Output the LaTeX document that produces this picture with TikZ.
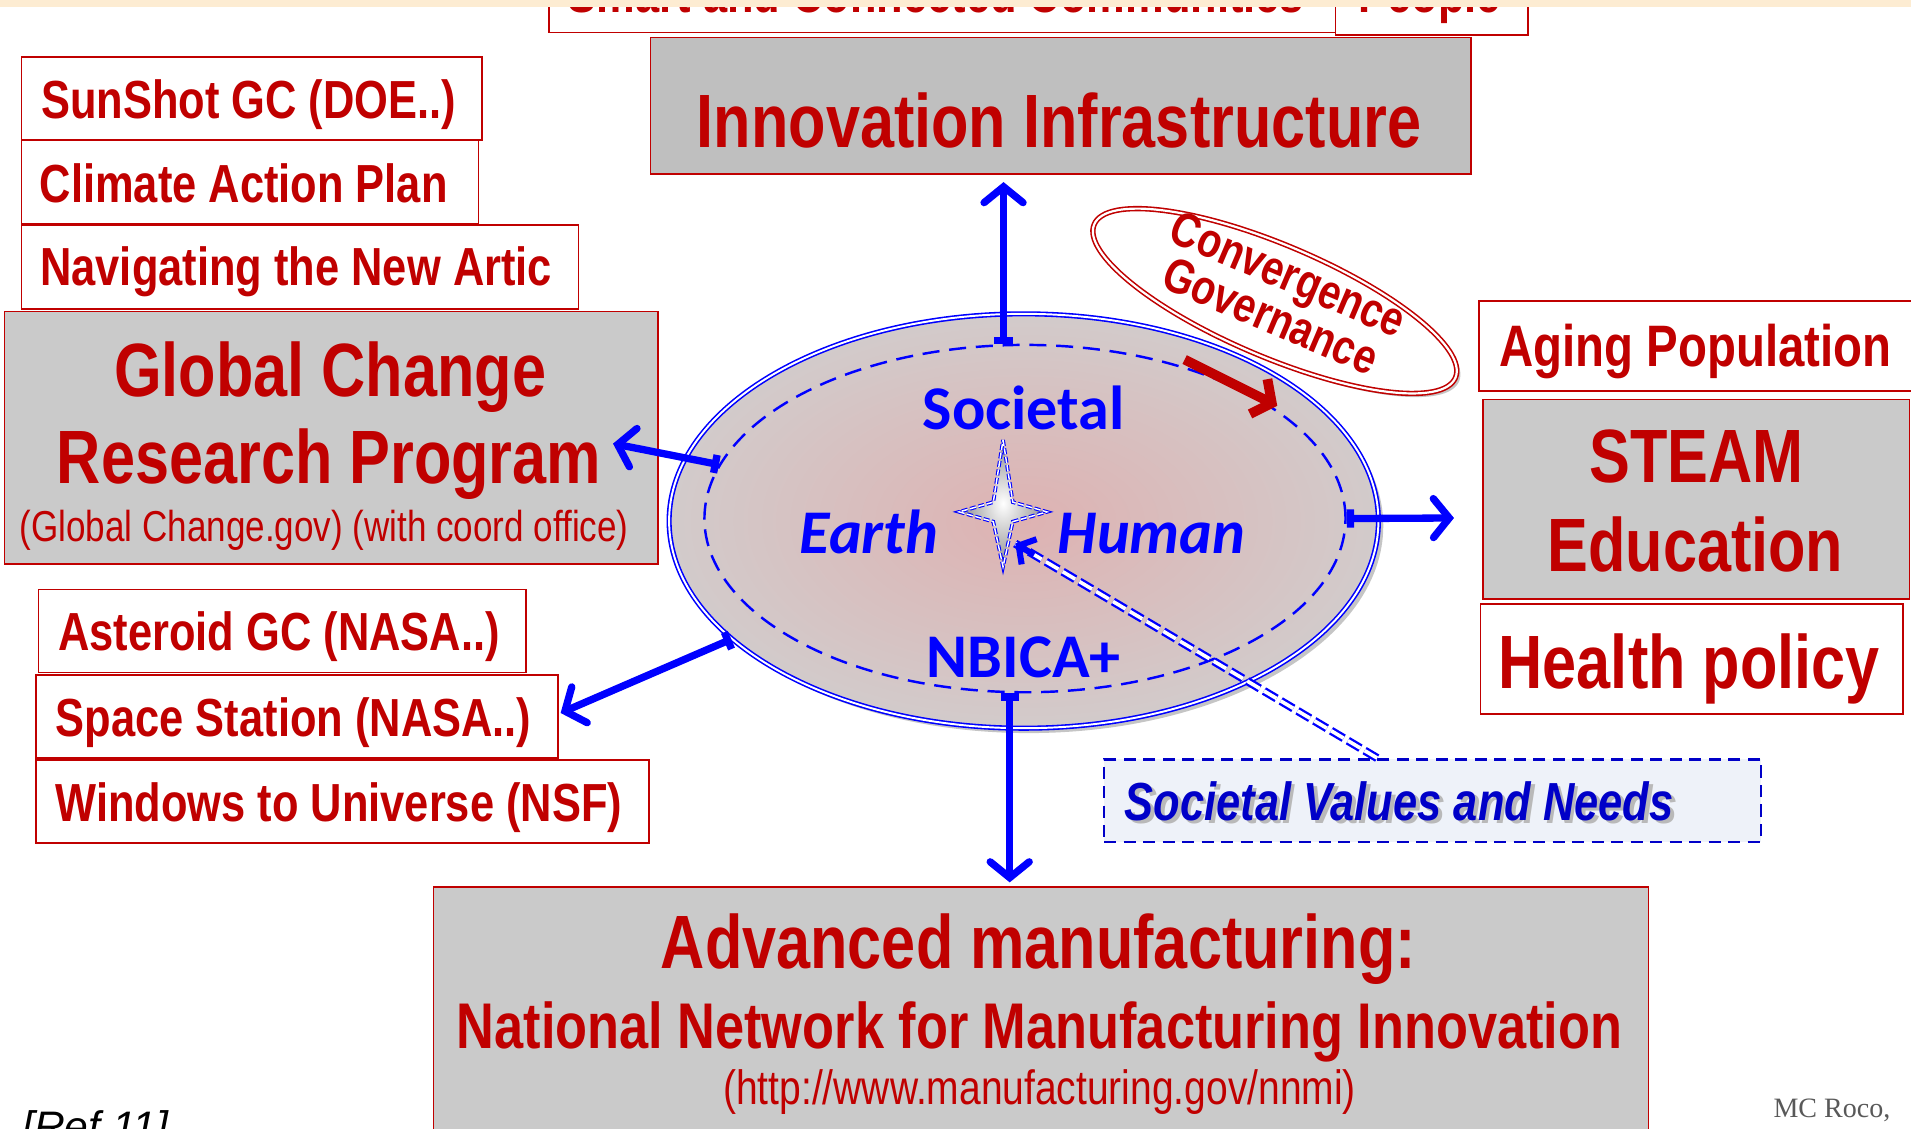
\documentclass[tikz,border=0pt]{standalone}
\usepackage{fontspec}
\usetikzlibrary{arrows.meta,shapes.geometric,shadows,calc}
\newfontfamily\narfont[FakeStretch=0.81]{Liberation Sans}
\newfontfamily\arfont{Liberation Sans}
\newfontfamily\calfont{Carlito}
\newfontfamily\tmsfont{Liberation Serif}
\definecolor{myred}{RGB}{192,0,0}
\definecolor{myblue}{RGB}{0,0,255}
\definecolor{dblue}{RGB}{0,0,200}
\definecolor{graya}{RGB}{191,191,191}
\definecolor{grayb}{RGB}{202,202,202}
\definecolor{cream}{RGB}{253,236,210}
\definecolor{svfill}{RGB}{238,242,249}
\definecolor{pinkc}{RGB}{222,178,178}
\definecolor{grayo}{RGB}{210,203,203}
\tikzset{
 rbox/.style={draw=myred, line width=1.4pt, fill=white, inner sep=0pt, anchor=north west},
 gbox/.style={rbox, fill=grayb},
 lbl/.style={anchor=base, inner sep=0pt, text=myred},
 fbig/.style={font=\narfont\bfseries\fontsize{62}{70}\selectfont},
 fmid/.style={font=\narfont\bfseries\fontsize{53}{60}\selectfont},
 fsm/.style={font=\narfont\bfseries\fontsize{44}{50}\selectfont},
 fage/.style={font=\narfont\bfseries\fontsize{48}{54}\selectfont},
 freg/.style={font=\narfont\fontsize{35.5}{40}\selectfont},
 fcal/.style={font=\calfont\bfseries\fontsize{51}{60}\selectfont, text=myblue, anchor=base, inner sep=0pt},
 barrow/.style={draw=myblue, line width=6pt, arrows={Bar[width=15pt]-Straight Barb[length=13pt,width=32pt,line cap=round]}},
 dblline/.style={draw=myblue, line width=1.9pt, double=white, double distance=3pt, dash pattern=on 12pt off 4pt},
}
\begin{document}
\begin{tikzpicture}[x=1pt,y=-1pt]
\useasboundingbox (0,0) rectangle (1568,926);
\clip (0,0) rectangle (1568,926);
\fill[white] (0,0) rectangle (1568,926);
% top cut boxes
\node[rbox, minimum width=645pt, minimum height=40pt] (smart) at (450,-14) {};
\node[rbox, minimum width=158pt, minimum height=42pt] (people) at (1095,-14) {};
\node[lbl, fsm] (smarttxt) at (768,10) {Smart and Connected Communities};
\node[lbl, fsm] (peopletxt) at (1173,10) {People};
% innovation
\node[rbox, fill=graya, minimum width=673pt, minimum height=112pt] (innov) at (533,30) {};
\node[lbl, fbig] (innovtxt) at (869,121) {Innovation Infrastructure};
% left upper
\node[rbox, minimum width=378pt, minimum height=68pt] (sun) at (17,46) {};
\node[lbl, fsm] (suntxt) at (204,97) {SunShot GC (DOE..)};
\node[rbox, minimum width=375pt, minimum height=69pt] (clim) at (17,114) {};
\node[lbl, fsm] (climtxt) at (200,166) {Climate Action Plan};
\node[rbox, minimum width=457pt, minimum height=69pt] (nav) at (17,184) {};
\node[lbl, fsm] (navtxt) at (243,234) {Navigating the New Artic};
\node[gbox, minimum width=536pt, minimum height=207pt] (gcr) at (3,255) {};
\node[lbl, fbig] (gcr1) at (271,325) {Global Change};
\node[lbl, fbig] (gcr2) at (270,397) {Research Program};
\node[lbl, freg] (gcr3) at (266,444) {(Global Change.gov) (with coord office)};
% left lower
\node[rbox, minimum width=400pt, minimum height=68pt] (ast) at (31,483) {};
\node[lbl, fsm] (asttxt) at (229,534) {Asteroid GC (NASA..)};
\node[rbox, minimum width=428pt, minimum height=68pt] (spc) at (29,553) {};
\node[lbl, fsm] (spctxt) at (241,604) {Space Station (NASA..)};
\node[rbox, minimum width=503pt, minimum height=68pt] (win) at (29,623) {};
\node[lbl, fsm] (wintxt) at (278,674) {Windows to Universe (NSF)};
% right
\node[rbox, minimum width=380pt, minimum height=74pt] (aging) at (1213,246) {};
\node[lbl, fage] (agingtxt) at (1391,301) {Aging Population};
\node[gbox, minimum width=350pt, minimum height=164pt] (steam) at (1216,327) {};
\node[lbl, fbig] (steam1) at (1392,396) {STEAM};
\node[lbl, fbig] (steam2) at (1391,469) {Education};
\node[rbox, minimum width=347pt, minimum height=90pt] (health) at (1214,495) {};
\node[lbl, fbig] (healthtxt) at (1386,565) {Health policy};
% bottom
\node[gbox, minimum width=997pt, minimum height=230pt] (manuf) at (355,727) {};
\node[lbl, fbig] (manuf1) at (852,795) {Advanced manufacturing:};
\node[lbl, fmid] (manuf2) at (853,860) {National Network for Manufacturing Innovation};
\node[lbl, font=\narfont\fontsize{39.5}{44}\selectfont] (manuf3) at (853,906) {(http://www.manufacturing.gov/nnmi)};
% societal values
\node[draw=dblue, fill=svfill, line width=2pt, dash pattern=on 10pt off 6pt, minimum width=539pt, minimum height=68pt, anchor=north west, inner sep=0pt] (sv) at (905,622) {};
\node[anchor=base, inner sep=0pt, text=gray!55, font=\narfont\bfseries\itshape\fontsize{44}{50}\selectfont] (svshadow) at (1151,676) {Societal Values and Needs};
\node[anchor=base, inner sep=0pt, text=dblue, font=\narfont\bfseries\itshape\fontsize{44}{50}\selectfont] (svtxt) at (1148,673) {Societal Values and Needs};
% main ellipse
\node[ellipse, minimum width=582pt, minimum height=340pt, inner color=pinkc, outer color=grayo, draw=myblue, line width=1.3pt, double=white, double distance=1.6pt, drop shadow={shadow xshift=4pt, shadow yshift=-4pt, opacity=0.45}] (outer) at (840,427.5) {};
\node[ellipse, draw=myblue, line width=2pt, dash pattern=on 14pt off 8pt, minimum width=526pt, minimum height=285pt] (inner) at (841,425.5) {};
\node[fcal] (soc) at (840,352) {Societal};
\node[fcal, font=\calfont\bfseries\itshape\fontsize{51}{60}\selectfont] (earth) at (713,454) {Earth};
\node[fcal, font=\calfont\bfseries\itshape\fontsize{51}{60}\selectfont] (human) at (945,454) {Human};
\node[fcal] (nbica) at (840,556) {NBICA+};
% star
\path[draw=myblue, line width=0.9pt, double=white, double distance=1.2pt, dash pattern=on 5pt off 2pt, inner color=white, outer color=gray!90]
 (823,361) -- (831,412) -- (859,420) -- (831,428) -- (823,465) -- (815,428) -- (787,420) -- (815,412) -- cycle;
% arrows
\coordinate (gctip) at (503,364);
\coordinate (sstip) at (460,585);
\coordinate (rtip) at (1193,425);
\coordinate (starpt) at (833,446);
\draw[barrow, shorten >=6pt] (inner.97) -- (inner.97 |- innov.south);
\draw[barrow, shorten >=3pt] (inner.265) -- (inner.265 |- manuf.north);
\draw[barrow] (inner.170) -- (gctip);
\draw[barrow] (outer.202) -- (sstip);
\draw[barrow] (inner.east) -- (rtip);
\coordinate (svtop) at ([xshift=225pt]sv.north west);
\draw[dblline] (svtop) -- (starpt);
\draw[myblue, line width=5pt, -{Straight Barb[length=10pt,width=24pt]}] ($(starpt)!18pt!(svtop)$) -- (starpt);
% convergence governance
\node[ellipse, rotate=-23, minimum width=322pt, minimum height=92pt, draw=myred, line width=1.3pt, double=white, double distance=1.8pt, fill=white, drop shadow={shadow xshift=3pt, shadow yshift=-3pt, opacity=0.45}] (conv) at (1046,247) {};
\node[rotate=-23, align=center, inner sep=0pt, text=myred, font=\narfont\bfseries\fontsize{40}{32}\selectfont] (convtxt) at (1050,242) {Convergence\\Governance};
\coordinate (ra1) at (972,295);
\coordinate (ra2) at (1048,333);
\draw[myred, line width=8pt, -{Straight Barb[length=12pt,width=32pt]}] (ra1) -- (ra2);
% footers
\node[anchor=base west, inner sep=0pt, font=\arfont\itshape\fontsize{35}{40}\selectfont] (ref) at (18,937) {[Ref 11]};
\node[anchor=base west, inner sep=0pt, text=black!65, font=\tmsfont\fontsize{23}{27}\selectfont] (roco) at (1455,917) {MC Roco,};
% cream band
\fill[cream] (0,0) rectangle (1568,6);
\end{tikzpicture}
\end{document}
